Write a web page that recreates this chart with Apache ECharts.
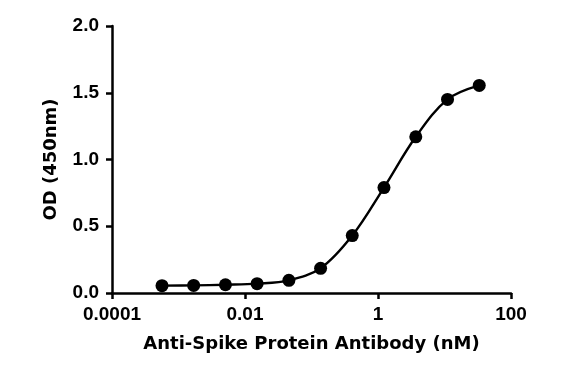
<!DOCTYPE html>
<html>
<head>
<meta charset="utf-8">
<script src="https://cdn.jsdelivr.net/npm/echarts@6/dist/echarts.min.js"></script>
<style>html,body{margin:0;padding:0;background:#fff}#c{width:574px;height:372px}</style>
</head>
<body>
<div id="c"></div>
<script>
const concentrations = [0.000565, 0.00169, 0.00508, 0.0152, 0.0457, 0.137, 0.41, 1.23, 3.7, 11.1, 33.3];
const odValues = [0.055, 0.057, 0.062, 0.070, 0.095, 0.185, 0.43, 0.79, 1.17, 1.45, 1.555];
const xTickLabels = ['0.0001', '0.01', '1', '100'];
const yTickLabels = ['0.0', '0.5', '1.0', '1.5', '2.0'];

const titleFont = '"DejaVu Sans", sans-serif';
const labelFont = '"Liberation Sans", Arial, sans-serif';
const chart = echarts.init(document.getElementById('c'), null, {renderer: 'canvas'});
const pts = concentrations.map((c, i) => [c, odValues[i]]);
chart.setOption({
  animation: false,
  backgroundColor: '#fff',
  grid: {left: 112, right: 63, top: 26, bottom: 79, containLabel: false},
  xAxis: {
    type: 'log', logBase: 10, min: 0.0001, max: 100, interval: 2,
    name: 'Anti-Spike Protein Antibody (nM)', nameLocation: 'middle', nameGap: 42,
    nameTextStyle: {fontFamily: titleFont, fontWeight: 'bold', fontSize: 18, color: '#000'},
    axisLine: {lineStyle: {color: '#000', width: 2.5}},
    axisTick: {show: true, length: 6, lineStyle: {color: '#000', width: 2.5}},
    axisLabel: {fontFamily: labelFont, fontWeight: 'bold', fontSize: 19, color: '#000', margin: 12,
      formatter: v => { const s = xTickLabels.find(t => Math.abs(Math.log10(parseFloat(t)) - Math.log10(v)) < 1e-6); return s || ''; }},
    splitLine: {show: false}
  },
  yAxis: {
    type: 'value', min: 0, max: 2, interval: 0.5,
    name: 'OD (450nm)', nameLocation: 'middle', nameGap: 52,
    nameTextStyle: {fontFamily: titleFont, fontWeight: 'bold', fontSize: 18, color: '#000'},
    axisLine: {show: true, lineStyle: {color: '#000', width: 2.5}},
    axisTick: {show: true, length: 6, lineStyle: {color: '#000', width: 2.5}},
    axisLabel: {fontFamily: labelFont, fontWeight: 'bold', fontSize: 19, color: '#000', margin: 13,
      formatter: v => yTickLabels[Math.round(v / 0.5)]},
    splitLine: {show: false}
  },
  series: [{
    type: 'line', data: pts, smooth: 0.35,
    symbol: 'circle', symbolSize: 13,
    itemStyle: {color: '#000'},
    lineStyle: {color: '#000', width: 2.4}
  }]
});
</script>
</body>
</html>
